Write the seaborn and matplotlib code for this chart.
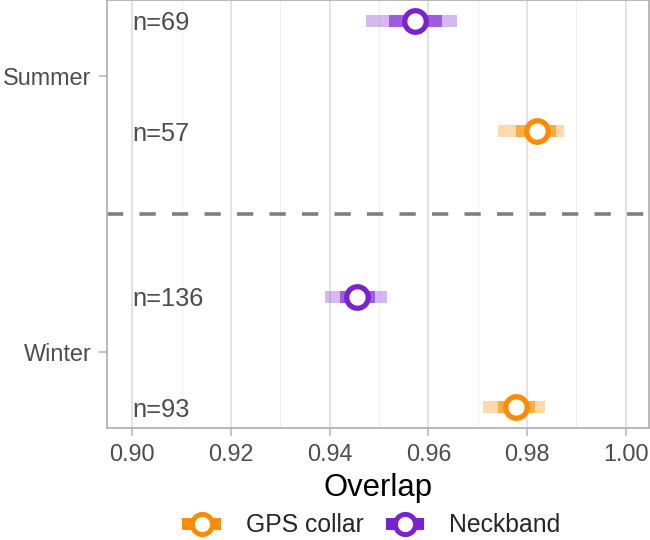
import numpy as np
import pandas as pd
import seaborn as sns
import matplotlib.pyplot as plt
from matplotlib.lines import Line2D

sns.set_style("white")
plt.rcParams['font.family'] = ['Liberation Sans', 'DejaVu Sans']

# data
seasons = ["Summer", "Winter"]
devices = ["GPS collar", "Neckband"]
season_col = ["Summer", "Summer", "Winter", "Winter"]
device_col = ["Neckband", "GPS collar", "Neckband", "GPS collar"]
overlap = [0.9573, 0.9820, 0.9456, 0.9778]
inner_lo = [0.9520, 0.9778, 0.9421, 0.9742]
inner_hi = [0.9627, 0.9859, 0.9492, 0.9817]
outer_lo = [0.9474, 0.9742, 0.9391, 0.9710]
outer_hi = [0.9659, 0.9875, 0.9516, 0.9837]
n_obs = [69, 57, 136, 93]

df = pd.DataFrame({"season": season_col, "device": device_col, "overlap": overlap,
                   "inner_lo": inner_lo, "inner_hi": inner_hi,
                   "outer_lo": outer_lo, "outer_hi": outer_hi, "n": n_obs})
colors = {"GPS collar": "#FF8C00", "Neckband": "#7B22D0"}
offset = {"Neckband": -0.2, "GPS collar": 0.2}
df["y"] = df["season"].map({s: i for i, s in enumerate(seasons)}) + df["device"].map(offset)

fig = plt.figure(figsize=(6.5, 5.4), dpi=100)
ax = fig.add_axes([107/650, 112/540, 542/650, 428/540])

# intervals
for _, r in df.iterrows():
    c = colors[r["device"]]
    ax.hlines(r["y"], r["outer_lo"], r["outer_hi"], color=c, alpha=0.32, lw=8.6, capstyle="butt", zorder=3)
    ax.hlines(r["y"], r["inner_lo"], r["inner_hi"], color=c, alpha=0.6, lw=8.6, capstyle="butt", zorder=4)

# points
for dev in devices:
    sub = df[df["device"] == dev]
    ax.plot(sub["overlap"], sub["y"], linestyle="none", marker="o", ms=15.5, mew=3.8,
            mfc="white", mec=colors[dev], zorder=5)

# n labels
for _, r in df.iterrows():
    ax.text(0.90, r["y"], f"n={r['n']}", ha="left", va="center_baseline",
            fontsize=18.3, color="#4D4D4D", zorder=6)

ax.axhline(0.5, color="#7F7F7F", lw=2.6, ls=(0, (4.5, 4.5)), zorder=2)

ax.set_xlim(0.8949, 1.0047)
ax.set_ylim(1.275, -0.275)
ax.set_xticks(np.arange(0.90, 1.001, 0.02))
ax.set_xticklabels([f"{v:.2f}" for v in np.arange(0.90, 1.001, 0.02)])
ax.set_xticks(np.arange(0.91, 1.0, 0.02), minor=True)
ax.set_yticks([0, 1])
ax.set_yticklabels(seasons)
ax.grid(axis="x", which="major", color="#DEDEDE", lw=1.2, zorder=0)
ax.grid(axis="x", which="minor", color="#EFEFEF", lw=0.7, zorder=0)
ax.grid(axis="y", visible=False)
ax.set_axisbelow(True)
ax.tick_params(axis="both", which="major", labelsize=16.8, labelcolor="#4D4D4D",
               color="#B3B3B3", length=6, width=1.1, pad=5, left=True, bottom=True)
ax.tick_params(axis="x", which="minor", length=0)
for sp in ax.spines.values():
    sp.set_color("#B3B3B3")
    sp.set_linewidth(1.3)
ax.set_xlabel("Overlap", fontsize=22.3, color="black", labelpad=5)
ax.set_ylabel("")

handles = [Line2D([], [], color=colors[d], lw=8.6, marker="o", ms=14.5, mew=3.6,
                  mfc="white", mec=colors[d], solid_capstyle="butt") for d in devices]
fig.legend(handles, devices, loc="center", bbox_to_anchor=(0.571, 0.027), ncol=2,
           frameon=False, fontsize=17.8, handlelength=1.55, handletextpad=1.0,
           columnspacing=0.9, borderpad=0)

fig.savefig("out.png", dpi=100)
